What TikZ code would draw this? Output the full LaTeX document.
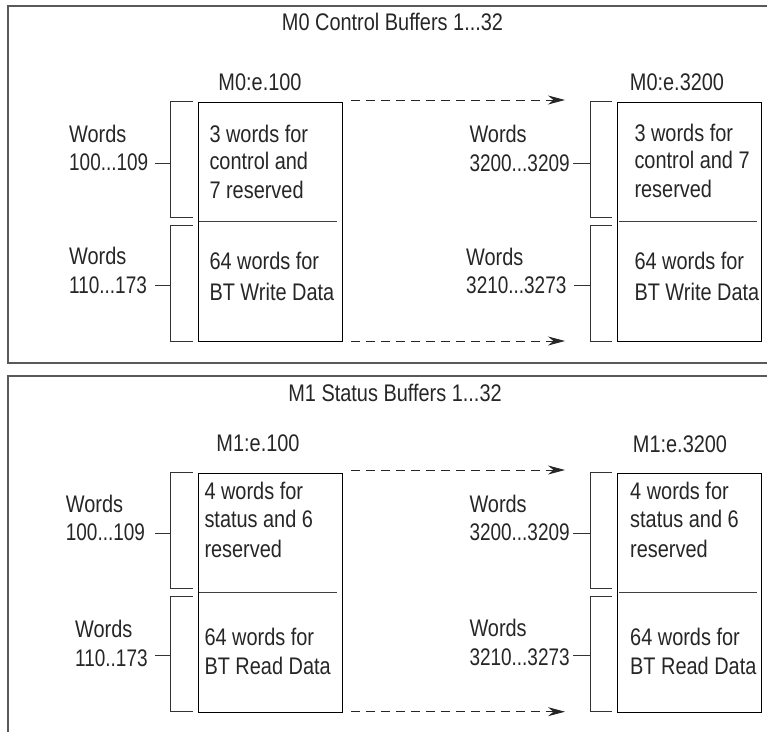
\documentclass[tikz,border=0pt]{standalone}
\usepackage{fontspec}
\setmainfont{Liberation Sans}[FakeStretch=0.83]
\newfontfamily\numfont{Liberation Sans}[FakeStretch=0.79]
\usetikzlibrary{arrows.meta}
\newcommand\dgfont{\fontsize{24}{29}\selectfont}
\newcommand\tline[4]{\node[lbl] (#1) at (#2,#3) {#4};}
\newcommand\nline[4]{\node[lbl, font=\numfont\dgfont] (#1) at (#2,#3) {#4};}
\tikzset{
  panel/.style={draw=black!65, line width=1.4pt},
  bufbox/.style={draw=black, line width=1pt, anchor=north west, inner sep=0pt},
  divider/.style={draw=black!75, line width=0.9pt},
  brk/.style={draw=black!80, line width=0.9pt},
  lbl/.style={anchor=base west, inner sep=0pt, font=\dgfont, text=black!85},
  ttl/.style={anchor=base, inner sep=0pt, font=\dgfont, text=black!85},
  flow/.style={draw=black!85, line width=0.9pt, dash pattern=on 9pt off 6pt,
    -{Stealth[length=17pt,width=9pt]}}
}
\begin{document}
\begin{tikzpicture}[x=1pt,y=-1pt]
\useasboundingbox (0,0) rectangle (767,731);
% ---------------- top panel ----------------
\draw[panel] (768,6) -- (8,6) -- (8,363) -- (768,363);
\node[ttl] (title0) at (392.5,30.7) {M0 Control Buffers 1...32};
\node[ttl] (addrA) at (260,90) {M0:e.100};
\node[ttl] (addrB) at (677,90) {M0:e.3200};
\node[bufbox, minimum width=144pt, minimum height=239.6pt] (bA) at (197.7,101.7) {};
\node[bufbox, minimum width=144.3pt, minimum height=239.6pt] (bB) at (616.7,101.7) {};
\draw[divider] (199,221.7) -- (337,221.7);
\draw[divider] (619,221.7) -- (756.7,221.7);
% brackets left
\draw[brk] (192.7,101.7) -- (170.7,101.7) -- (170.7,217.7) -- (192.7,217.7);
\draw[brk] (192.7,225.3) -- (170.7,225.3) -- (170.7,341.3) -- (192.7,341.3);
\draw[brk] (155,163.3) -- (170.7,163.3);
\draw[brk] (155,285.7) -- (170.7,285.7);
% brackets right
\draw[brk] (611.7,101.7) -- (590,101.7) -- (590,217.7) -- (611.7,217.7);
\draw[brk] (611.7,225.3) -- (590,225.3) -- (590,341.3) -- (611.7,341.3);
\draw[brk] (573.3,163.3) -- (590,163.3);
\draw[brk] (574.3,285.7) -- (590,285.7);
% labels left
\tline{wA1}{69}{142.3}{Words}
\nline{wA2}{69}{170.3}{100...109}
\tline{wA3}{69}{264.3}{Words}
\nline{wA4}{69}{293.3}{110...173}
\tline{tA1}{209.3}{142.3}{3 words for}
\tline{tA2}{209.3}{169.5}{control and}
\tline{tA3}{209.3}{198}{7 reserved}
\tline{tA4}{209.3}{269.3}{64 words for}
\tline{tA5}{209.3}{300}{BT Write Data}
% labels right
\tline{wB1}{469.3}{142}{Words}
\nline{wB2}{469.3}{171}{3200...3209}
\tline{wB3}{466}{265}{Words}
\nline{wB4}{466}{293.3}{3210...3273}
\tline{tB1}{634.3}{141}{3 words for}
\tline{tB2}{634.3}{168.7}{control and 7}
\tline{tB3}{634.3}{197.7}{reserved}
\tline{tB4}{634.3}{269.3}{64 words for}
\tline{tB5}{634.3}{300}{BT Write Data}
% arrows
\draw[flow] ([shift={(8.3,-1.7)}]bA.north east) -- ([shift={(-51.7,-1.7)}]bB.north west);
\draw[flow] ([shift={(8.3,-1.3)}]bA.south east) -- ([shift={(-51.7,-1.3)}]bB.south west);
% ---------------- bottom panel ----------------
\draw[panel] (768,376) -- (8,376) -- (8,732);
\node[ttl] (title1) at (395,401.7) {M1 Status Buffers 1...32};
\node[ttl] (addrC) at (258,451.7) {M1:e.100};
\node[ttl] (addrD) at (680,452.7) {M1:e.3200};
\node[bufbox, minimum width=144pt, minimum height=239pt] (bC) at (197.7,472.7) {};
\node[bufbox, minimum width=144.3pt, minimum height=239pt] (bD) at (616.7,472.7) {};
\draw[divider] (199,592.7) -- (337,592.7);
\draw[divider] (619,592.7) -- (756.7,592.7);
% brackets left
\draw[brk] (192.7,472.7) -- (170.7,472.7) -- (170.7,588.3) -- (192.7,588.3);
\draw[brk] (192.7,596) -- (170.7,596) -- (170.7,711.7) -- (192.7,711.7);
\draw[brk] (155,533.3) -- (170.7,533.3);
\draw[brk] (155,655.7) -- (170.7,655.7);
% brackets right
\draw[brk] (611.7,472.7) -- (590,472.7) -- (590,588.3) -- (611.7,588.3);
\draw[brk] (611.7,596) -- (590,596) -- (590,711.7) -- (611.7,711.7);
\draw[brk] (573.3,533.3) -- (590,533.3);
\draw[brk] (573.3,655.7) -- (590,655.7);
% labels left
\tline{wC1}{65.7}{512.3}{Words}
\nline{wC2}{65.7}{540.7}{100...109}
\tline{wC3}{75}{637.7}{Words}
\nline{wC4}{75}{666.7}{110..173}
\tline{tC1}{204.3}{499.3}{4 words for}
\tline{tC2}{204.3}{527.7}{status and 6}
\tline{tC3}{204.3}{557.3}{reserved}
\tline{tC4}{204.3}{645}{64 words for}
\tline{tC5}{204.3}{674}{BT Read Data}
% labels right
\tline{wD1}{469.3}{512.3}{Words}
\nline{wD2}{469.3}{540.7}{3200...3209}
\tline{wD3}{469.3}{636.7}{Words}
\nline{wD4}{469.3}{665.7}{3210...3273}
\tline{tD1}{630}{499.3}{4 words for}
\tline{tD2}{630}{527.7}{status and 6}
\tline{tD3}{630}{557.3}{reserved}
\tline{tD4}{630}{645}{64 words for}
\tline{tD5}{630}{674}{BT Read Data}
% arrows
\draw[flow] ([shift={(8.3,-2.7)}]bC.north east) -- ([shift={(-51.7,-2.7)}]bD.north west);
\draw[flow] ([shift={(8.3,-1)}]bC.south east) -- ([shift={(-51.7,-1)}]bD.south west);
\end{tikzpicture}
\end{document}
